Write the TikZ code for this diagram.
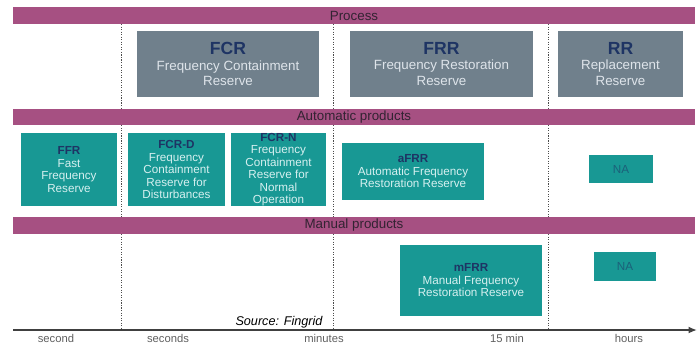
\documentclass[tikz,border=0pt]{standalone}
\usepackage{fontspec}
\setmainfont{Liberation Sans}
\usepackage{tikz}
\usetikzlibrary{arrows.meta}

\definecolor{barplum}{RGB}{166,80,130}
\definecolor{bartext}{RGB}{50,35,50}
\definecolor{procgray}{RGB}{112,128,140}
\definecolor{proctext}{RGB}{222,228,234}
\definecolor{prodteal}{RGB}{24,152,148}
\definecolor{prodtext}{RGB}{214,240,240}
\definecolor{titlenavy}{RGB}{30,52,100}
\definecolor{ticktext}{RGB}{95,95,95}

\newcommand{\proctitle}[1]{{\fontsize{12.5}{14}\selectfont\bfseries\color{titlenavy}#1}}
\newcommand{\prodtitle}[1]{{\bfseries\color{titlenavy}#1}}

\begin{document}
\begin{tikzpicture}[x=0.025cm, y=-0.025cm,
	bar/.style={rectangle, fill=barplum, minimum width=17.05cm, inner sep=0pt, text=bartext, font=\fontsize{9.5}{10}\selectfont},
	procbox/.style={rectangle, fill=procgray, minimum height=1.65cm, inner sep=0pt, text=proctext, align=center, font=\fontsize{9.5}{11}\selectfont},
	prodbox/.style={rectangle, fill=prodteal, inner sep=0pt, text=prodtext, align=center, font=\fontsize{8.3}{8.9}\selectfont},
	nabox/.style={rectangle, fill=prodteal, inner sep=0pt, text=titlenavy!55!prodteal, font=\fontsize{8.3}{9}\selectfont},
	ticklabel/.style={text=ticktext, font=\fontsize{8}{9}\selectfont}]
		\useasboundingbox (0,0) rectangle (698,344);
		% time separators
		\foreach \x in {121,333,548}
			\draw[gray!60!black, line width=0.6pt, dash pattern=on 0.8pt off 1pt] (\x,24) -- (\x,330);
		% bands
		\node[bar, minimum height=0.425cm] (processbar) at (354,15.5)  {Process};
		\node[bar, minimum height=0.4cm]   (autobar)    at (354,117)   {Automatic products};
		\node[bar, minimum height=0.425cm] (manualbar)  at (354,225.5) {Manual products};
		% process
		\node[procbox, minimum width=4.55cm]  (fcr) at (228,64)   {\proctitle{FCR}\\Frequency Containment\\Reserve};
		\node[procbox, minimum width=4.575cm] (frr) at (441.5,64) {\proctitle{FRR}\\Frequency Restoration\\Reserve};
		\node[procbox, minimum width=3.125cm] (rr)  at (620.5,64) {\proctitle{RR}\\Replacement\\Reserve};
		% automatic products
		\node[prodbox, minimum width=2.4cm,   minimum height=1.825cm] (ffr)  at (69,169.5)    {\prodtitle{FFR}\\Fast\\Frequency\\Reserve};
		\node[prodbox, minimum width=2.425cm, minimum height=1.825cm] (fcrd) at (176.5,169.5) {\prodtitle{FCR-D}\\Frequency\\Containment\\Reserve for\\Disturbances};
		\node[prodbox, minimum width=2.375cm, minimum height=1.825cm] (fcrn) at (278.5,169.5) {\prodtitle{FCR-N}\\Frequency\\Containment\\Reserve for\\Normal\\Operation};
		\node[prodbox, minimum width=3.55cm,  minimum height=1.425cm] (afrr) at (413,171.5)   {\prodtitle{aFRR}\\Automatic Frequency\\Restoration Reserve};
		\node[nabox,   minimum width=1.6cm,   minimum height=0.7cm]   (naauto) at (621,169)   {NA};
		% manual products
		\node[prodbox, minimum width=3.55cm,  minimum height=1.775cm] (mfrr) at (471,280.5)   {\prodtitle{mFRR}\\Manual Frequency\\Restoration Reserve};
		\node[nabox,   minimum width=1.55cm,  minimum height=0.725cm] (namanual) at (625,266.5) {NA};
		% time axis
		\coordinate (axisstart) at (13,330);
		\coordinate (axisend)   at (697,330);
		\draw[-{Latex[length=6pt,width=5pt]}, line width=1.4pt, black!75] (axisstart) -- (axisend);
		\node[ticklabel] (tsecond)  at (56,338)  {second};
		\node[ticklabel] (tseconds) at (168,338) {seconds};
		\node[ticklabel] (tminutes) at (324,338) {minutes};
		\node[ticklabel] (t15min)   at (507,338) {15 min};
		\node[ticklabel] (thours)   at (629,338) {hours};
		\node[font=\fontsize{9}{10}\selectfont\itshape] (source) at (279,322) {Source: Fingrid};
	\end{tikzpicture}
\end{document}
